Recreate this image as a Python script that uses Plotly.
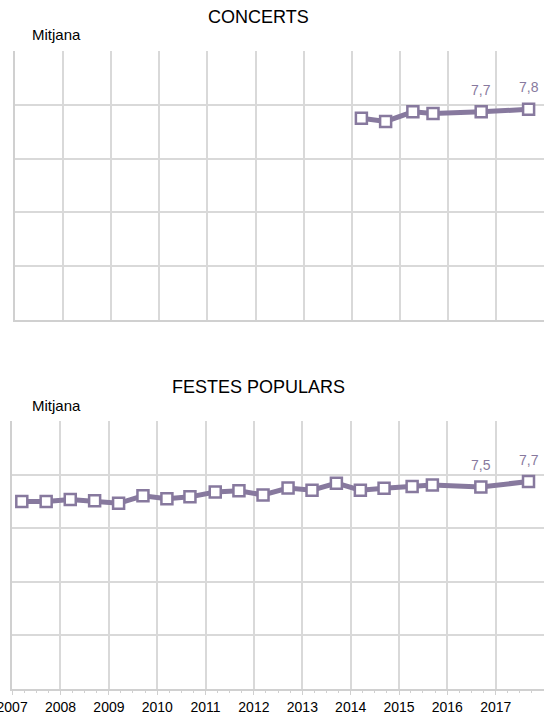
import plotly.graph_objects as go

LINE_COLOR = "#87799e"
GRID_COLOR = "#d9d9d9"
AXIS_COLOR = "#d0d0d0"
FONT = "Liberation Sans, Arial, sans-serif"

concerts_dates = ["2014-03-15", "2014-09-15", "2015-04-10", "2015-09-10",
                  "2016-09-10", "2017-09-05"]
concerts_values = [7.50, 7.38, 7.74, 7.68, 7.74, 7.83]

festes_dates = ["2007-03-15", "2007-09-15", "2008-03-15", "2008-09-15",
                "2009-03-15", "2009-09-15", "2010-03-15", "2010-09-05",
                "2011-03-15", "2011-09-10", "2012-03-10", "2012-09-15",
                "2013-03-15", "2013-09-15", "2014-03-15", "2014-09-10",
                "2015-04-10", "2015-09-10", "2016-09-10", "2017-09-05"]
festes_values = [7.00, 7.00, 7.07, 7.02, 6.93, 7.21, 7.10, 7.17, 7.35, 7.40,
                 7.24, 7.50, 7.42, 7.68, 7.42, 7.49, 7.56, 7.61, 7.54, 7.74]

X_RANGE = ["2006-12-31", "2017-12-31"]
Y_RANGE = [0, 10]
H = 716
W = 544


def py(px):
    return 1 - px / H


def series(x, y, xa, ya):
    return go.Scatter(
        x=x, y=y, xaxis=xa, yaxis=ya, mode="lines+markers",
        line=dict(color=LINE_COLOR, width=5),
        marker=dict(symbol="square", size=11, color="#ffffff",
                    line=dict(color=LINE_COLOR, width=2.5)),
        hoverinfo="skip", showlegend=False,
    )


def labels(x, y, xa, ya):
    return [dict(x=x[i], y=y[i], xref=xa, yref=ya, yshift=22, showarrow=False,
                 text=f"{y[i]:.1f}".replace(".", ","),
                 font=dict(family=FONT, size=14, color=LINE_COLOR))
            for i in (-2, -1)]


def heading(text, x, y, size, anchor="center"):
    return dict(text=text, x=x / W, y=py(y), xref="paper", yref="paper",
                xanchor=anchor, yanchor="middle", showarrow=False,
                font=dict(size=size))


fig = go.Figure()
fig.add_trace(series(concerts_dates, concerts_values, "x", "y"))
fig.add_trace(series(festes_dates, festes_values, "x2", "y2"))

xbase = dict(type="date", range=X_RANGE, tick0="2007-01-01", dtick="M12",
             showgrid=True, gridcolor=GRID_COLOR, gridwidth=1.5,
             showline=True, linecolor=AXIS_COLOR, linewidth=2,
             zeroline=False, fixedrange=True, automargin=False)
ybase = dict(range=Y_RANGE, dtick=2, showgrid=True, gridcolor=GRID_COLOR,
             gridwidth=1.5, showline=True, linecolor=AXIS_COLOR, linewidth=2,
             showticklabels=False, ticks="", zeroline=False, fixedrange=True)

fig.update_layout(
    width=W, height=H,
    margin=dict(l=0, r=0, t=0, b=0, autoexpand=False),
    plot_bgcolor="#ffffff", paper_bgcolor="#ffffff",
    font=dict(family=FONT, color="#000000"),
    xaxis=dict(xbase, domain=[15 / W, 1], anchor="y", showticklabels=False,
               ticks=""),
    yaxis=dict(ybase, domain=[py(320), py(51)], anchor="x"),
    xaxis2=dict(xbase, domain=[12 / W, 1], anchor="y2", ticks="outside",
                ticklen=4, tickcolor=AXIS_COLOR, tickformat="%Y",
                ticklabeloverflow="allow",
                tickfont=dict(size=14, color="#000000"),
                minor=dict(dtick="M3", ticks="outside", ticklen=2,
                           tickcolor=AXIS_COLOR, showgrid=False)),
    yaxis2=dict(ybase, domain=[py(689), py(421)], anchor="x2"),
    annotations=[
        heading("CONCERTS", 258, 17, 18),
        heading("Mitjana", 30, 35, 15, "left"),
        heading("FESTES POPULARS", 258, 387, 18),
        heading("Mitjana", 30, 405, 15, "left"),
    ] + labels(concerts_dates, concerts_values, "x", "y")
      + labels(festes_dates, festes_values, "x2", "y2"),
)

fig.write_html("out.html", config={"displayModeBar": False},
               post_script="document.body.style.margin = '0';")
